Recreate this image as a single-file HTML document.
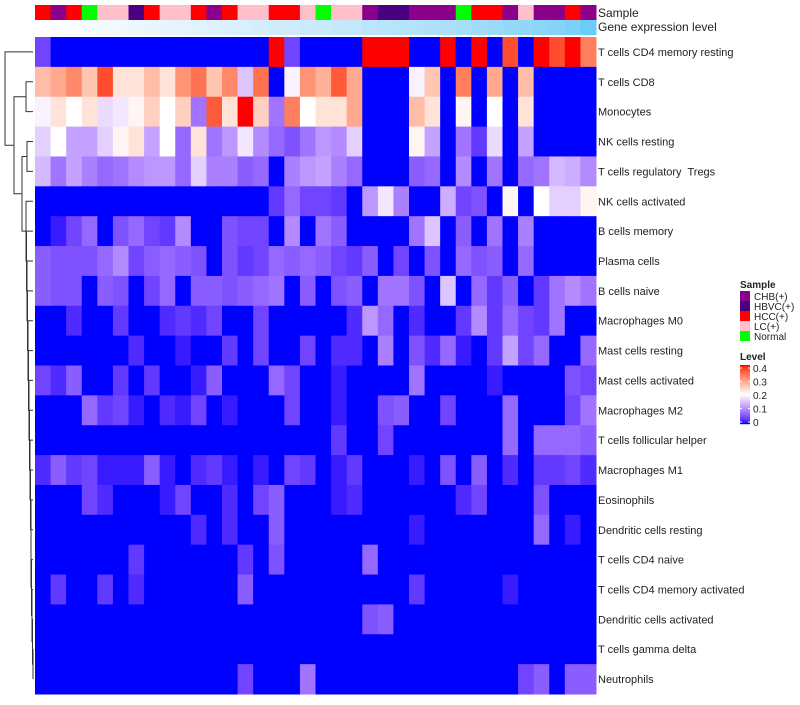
<!DOCTYPE html>
<html><head><meta charset="utf-8">
<style>
body{margin:0;background:#fff;font-family:"Liberation Sans",sans-serif;}
svg text{font-family:"Liberation Sans",sans-serif;white-space:pre;}
</style></head>
<body>
<svg id="chart" width="800" height="700" xmlns="http://www.w3.org/2000/svg">
<rect width="800" height="700" fill="#fff"/>
<g id="dend" stroke="#333" stroke-width="1" fill="none"></g>
<g id="annot"></g>
<g id="cells"></g>
<g id="rowlabels" font-size="11" fill="#222"></g>
<text x="598" y="17" font-size="12" fill="#222">Sample</text>
<text x="598" y="31" font-size="12" fill="#222">Gene expression level</text>
<g id="legend"></g>
</svg>
<script>
const rowNames=["T cells CD4 memory resting","T cells CD8","Monocytes","NK cells resting","T cells regulatory  Tregs","NK cells activated","B cells memory","Plasma cells","B cells naive","Macrophages M0","Mast cells resting","Mast cells activated","Macrophages M2","T cells follicular helper","Macrophages M1","Eosinophils","Dendritic cells resting","T cells CD4 naive","T cells CD4 memory activated","Dendritic cells activated","T cells gamma delta","Neutrophils"];
const sampleGroups=["HCC(+)","CHB(+)","HCC(+)","Normal","LC(+)","LC(+)","HBVC(+)","HCC(+)","LC(+)","LC(+)","HCC(+)","CHB(+)","HCC(+)","LC(+)","LC(+)","HCC(+)","HCC(+)","LC(+)","Normal","LC(+)","LC(+)","CHB(+)","HBVC(+)","HBVC(+)","CHB(+)","CHB(+)","CHB(+)","Normal","HCC(+)","HCC(+)","CHB(+)","LC(+)","CHB(+)","CHB(+)","HCC(+)","CHB(+)"];
const geneLevels=[0,0.03,0.05,0.07,0.09,0.11,0.13,0.15,0.17,0.19,0.21,0.23,0.25,0.27,0.29,0.31,0.33,0.35,0.37,0.39,0.41,0.43,0.46,0.48,0.5,0.52,0.55,0.58,0.61,0.64,0.67,0.7,0.73,0.76,0.8,0.88];
const legendGroups=["CHB(+)","HBVC(+)","HCC(+)","LC(+)","Normal"];
const legendTicks=[0.4,0.3,0.2,0.1,0];
const v0=[0.04,0,0,0,0,0,0,0,0,0,0,0,0,0,0,0.4,0.04,0,0,0,0,0.4,0.4,0.4,0,0,0.4,0,0.4,0,0.37,0,0.4,0.37,0.4,0.33];
const v1=[0.27,0.29,0.32,0.26,0.37,0.23,0.23,0.27,0.23,0.31,0.34,0.26,0.32,0.15,0.34,0,0.19,0.31,0.28,0.36,0.29,0,0,0,0.19,0.26,0,0.33,0,0.29,0,0.27,0,0,0,0];
const v2=[0.19,0.23,0.2,0.23,0.17,0.18,0.21,0.25,0.2,0.25,0.08,0.36,0.23,0.4,0.25,0.08,0.33,0.2,0.23,0.23,0.29,0,0,0,0.27,0.23,0,0.21,0,0.2,0,0.23,0,0,0,0];
const v3=[0.16,0.2,0.12,0.12,0.16,0.21,0.23,0.12,0.2,0.07,0.23,0.08,0.11,0.18,0.1,0.07,0.05,0.08,0.11,0.1,0.16,0,0,0,0.21,0.12,0,0.08,0.03,0.17,0,0.12,0,0,0,0];
const v4=[0.14,0.08,0.12,0.09,0.07,0.08,0.1,0.11,0.11,0.07,0.16,0.09,0.09,0.06,0.07,0,0.09,0.11,0.12,0.09,0.07,0,0,0,0.06,0.07,0,0.1,0,0.08,0,0.07,0.08,0.14,0.13,0.1];
const v5=[0,0,0,0,0,0,0,0,0,0,0,0,0,0,0,0.03,0.07,0.04,0.04,0.03,0,0.11,0.18,0.09,0,0,0.13,0.04,0.05,0,0.21,0,0.2,0.16,0.16,0.21];
const v6=[0,0.01,0.04,0.07,0,0.05,0.07,0.04,0.03,0.1,0,0,0.05,0.04,0.04,0,0.1,0,0.08,0.06,0,0,0,0,0.08,0.15,0,0.06,0,0.08,0,0.09,0,0,0,0];
const v7=[0.06,0.05,0.05,0.05,0.07,0.1,0.04,0.06,0.07,0.06,0.05,0,0.05,0.03,0.04,0.07,0.06,0.07,0.06,0.04,0.03,0.06,0,0.04,0,0.05,0,0.07,0.05,0.06,0,0.07,0,0,0,0];
const v8=[0.06,0.05,0.05,0,0.06,0.05,0,0.04,0.07,0,0.06,0.06,0.05,0.06,0.07,0.08,0,0.06,0,0.05,0.06,0,0.08,0.08,0.05,0,0.15,0,0.07,0.03,0.06,0,0.03,0.08,0.1,0.08];
const v9=[0,0,0.02,0,0,0.03,0,0,0.02,0.03,0.02,0.04,0,0,0.04,0,0,0,0,0,0.02,0.11,0.07,0,0.02,0,0,0.03,0.1,0.03,0.07,0.04,0.03,0.08,0,0];
const v10=[0,0,0,0,0,0,0.02,0,0,0.01,0,0,0.03,0,0.04,0,0,0.04,0,0.02,0.02,0,0.09,0,0.05,0.02,0.07,0.01,0,0.03,0.12,0.04,0.07,0,0,0.07];
const v11=[0.04,0.02,0.06,0,0,0.03,0,0.03,0,0,0.01,0.06,0,0,0,0.07,0.04,0,0,0.01,0,0,0,0,0.08,0,0,0,0,0.01,0,0,0,0,0.05,0.04];
const v12=[0,0,0,0.07,0.03,0.04,0.01,0,0.02,0.01,0.04,0,0.01,0,0,0,0.04,0,0,0.01,0,0,0.05,0.06,0,0,0.04,0,0,0,0.07,0,0,0,0.04,0.08];
const v13=[0,0,0,0,0,0,0,0,0,0,0,0,0,0,0,0,0,0,0,0.03,0,0,0.04,0,0,0,0,0,0,0,0.07,0,0.07,0.07,0.07,0.06];
const v14=[0.02,0.06,0.03,0.04,0.01,0.01,0.01,0.06,0.01,0,0.02,0.03,0.01,0,0.01,0,0.04,0.03,0,0.01,0.03,0,0,0,0.01,0,0.05,0,0.06,0,0.02,0,0.03,0.03,0.04,0.02];
const v15=[0,0,0,0.04,0.02,0,0,0,0.01,0.04,0,0,0.02,0,0.04,0.06,0,0,0,0.01,0.02,0,0,0,0,0,0,0.02,0.04,0,0,0,0.05,0,0,0];
const v16=[0,0,0,0,0,0,0,0,0,0,0.02,0,0.02,0,0,0.06,0,0,0,0,0,0,0,0,0.01,0,0,0,0,0,0,0,0.07,0,0.01,0];
const v17=[0,0,0,0,0,0,0.03,0,0,0,0,0,0,0.03,0,0.05,0,0,0,0,0,0.07,0,0,0,0,0,0,0,0,0,0,0,0,0,0];
const v18=[0,0.03,0,0,0.03,0,0.02,0,0,0,0,0,0,0.06,0,0,0,0,0,0,0,0,0,0,0.03,0,0,0,0,0,0.01,0,0,0,0,0];
const v19=[0,0,0,0,0,0,0,0,0,0,0,0,0,0,0,0,0,0,0,0,0,0.05,0.06,0,0,0,0,0,0,0,0,0,0,0,0,0];
const v20=[0,0,0,0,0,0,0,0,0,0,0,0,0,0,0,0,0,0,0,0,0,0,0,0,0,0,0,0,0,0,0,0,0,0,0,0];
const v21=[0,0,0,0,0,0,0,0,0,0,0,0,0,0.04,0,0,0,0.08,0,0,0,0,0,0,0,0,0,0,0,0,0,0.04,0.06,0,0.06,0.06];
const values=[v0,v1,v2,v3,v4,v5,v6,v7,v8,v9,v10,v11,v12,v13,v14,v15,v16,v17,v18,v19,v20,v21];

const groupColor={"CHB(+)":"#8B008B","HBVC(+)":"#4B0082","HCC(+)":"#FF0000","LC(+)":"#FFC0CB","Normal":"#00FF00"};
const X0=35,X1=596,Y0=37,Y1=694;
const nC=36,nR=22,cw=(X1-X0)/nC,rh=(Y1-Y0)/nR;
const xs=i=>X0+i*cw, ys=j=>Y0+j*rh;
const NS="http://www.w3.org/2000/svg";
function mk(t,a,p){const e=document.createElementNS(NS,t);for(const k in a)e.setAttribute(k,a[k]);p.appendChild(e);return e;}
function s2l(c){c/=255;return c<=0.04045?c/12.92:Math.pow((c+0.055)/1.055,2.4);}
function l2s(c){c=c<=0.0031308?12.92*c:1.055*Math.pow(c,1/2.4)-0.055;return Math.max(0,Math.min(255,Math.round(c*255)));}
function toLab(r,g,b){r=s2l(r);g=s2l(g);b=s2l(b);let x=(0.4124*r+0.3576*g+0.1805*b)/0.95047,y=0.2126*r+0.7152*g+0.0722*b,z=(0.0193*r+0.1192*g+0.9505*b)/1.08883;const f=t=>t>0.008856?Math.cbrt(t):7.787*t+16/116;x=f(x);y=f(y);z=f(z);return[116*y-16,500*(x-y),200*(y-z)];}
function fromLab(L,a,b){let y=(L+16)/116,x=a/500+y,z=y-b/200;const fi=t=>t*t*t>0.008856?t*t*t:(t-16/116)/7.787;x=fi(x)*0.95047;y=fi(y);z=fi(z)*1.08883;const r=3.2406*x-1.5372*y-0.4986*z,g=-0.9689*x+1.8758*y+0.0415*z,bb=0.0557*x-0.2040*y+1.0570*z;return`rgb(${l2s(r)},${l2s(g)},${l2s(bb)})`;}
const LB=toLab(0,0,255),LW=toLab(255,255,255),LR=toLab(255,0,0);
function col(v){v=Math.max(0,Math.min(0.4,v));let A,B,t;if(v<=0.2){A=LB;B=LW;t=v/0.2;}else{A=LW;B=LR;t=(v-0.2)/0.2;}return fromLab(A[0]+(B[0]-A[0])*t,A[1]+(B[1]-A[1])*t,A[2]+(B[2]-A[2])*t);}
const LC0=toLab(255,255,255),LC1=toLab(72,198,245);
function geneCol(t){return fromLab(LC0[0]+(LC1[0]-LC0[0])*t,LC0[1]+(LC1[1]-LC0[1])*t,LC0[2]+(LC1[2]-LC0[2])*t);}

const annot=document.getElementById('annot');
sampleGroups.forEach((g,i)=>{
 const r=mk('rect',{x:xs(i),y:5,width:cw+0.5,height:15,fill:groupColor[g]},annot);
 
 
});
geneLevels.forEach((g,i)=>{
 const r=mk('rect',{x:xs(i),y:20,width:cw+0.5,height:15,fill:geneCol(g)},annot);
 
 
});
const cells=document.getElementById('cells');
values.forEach((row,j)=>row.forEach((v,i)=>{
 const r=mk('rect',{x:xs(i),y:ys(j),width:cw+0.5,height:rh+0.5,fill:col(v)},cells);
 
 
}));
const rl=document.getElementById('rowlabels');
rowNames.forEach((n,j)=>{
 const t=mk('text',{x:598,y:ys(j)+rh/2+4},rl);t.textContent=n;
 
 
});
const dg=document.getElementById('dend');
const yc=j=>ys(j)+rh/2;
function link(x,ya,xa,yb,xb){mk('path',{d:`M${xa},${ya}H${x}V${yb}H${xb}`},dg);}
let cx=33,cy=yc(21);
const chainX=[33,32.5,32,31.5,31,31,30.5,30,29.5,29,28.5,28,27.5,27,26.5,26];
for(let j=20;j>=5;j--){const x=chainX[20-j];link(x,yc(j),33,cy,cx);cy=(yc(j)+cy)/2;cx=x;}
link(26,yc(1),33,yc(2),33);const ya=(yc(1)+yc(2))/2;
link(27,yc(3),33,yc(4),33);const yb=(yc(3)+yc(4))/2;
link(22,yb,27,cy,cx);const y2=(yb+cy)/2;
link(14,ya,26,y2,22);const y1=(ya+y2)/2;
link(5,yc(0),33,y1,14);

const lg=document.getElementById('legend');
let t=mk('text',{x:740,y:288,'font-size':10,'font-weight':'bold',fill:'#222'},lg);t.textContent='Sample';
legendGroups.forEach((g,i)=>{
 const r=mk('rect',{x:740,y:291+i*10,width:10,height:10,fill:groupColor[g]},lg);
 
 
 const tx=mk('text',{x:754,y:300+i*10,'font-size':10,fill:'#222'},lg);tx.textContent=g;
 
 
});
t=mk('text',{x:740,y:360,'font-size':10,'font-weight':'bold',fill:'#222'},lg);t.textContent='Level';
const gy0=365,gy1=424;
for(let k=0;k<59;k++){const v=0.4*(1-k/58);mk('rect',{x:740,y:gy0+k,width:10,height:1.2,fill:col(v)},lg);}
legendTicks.forEach(v=>{
 const y=gy1-2-(v/0.4)*(gy1-gy0-5);
 mk('line',{x1:740,x2:742,y1:y,y2:y,stroke:'#fff'},lg);
 mk('line',{x1:748,x2:750,y1:y,y2:y,stroke:'#fff'},lg);
 const tx=mk('text',{x:753,y:y+4,'font-size':10,fill:'#222'},lg);tx.textContent=String(v);
 
 
});
</script>
</body></html>
